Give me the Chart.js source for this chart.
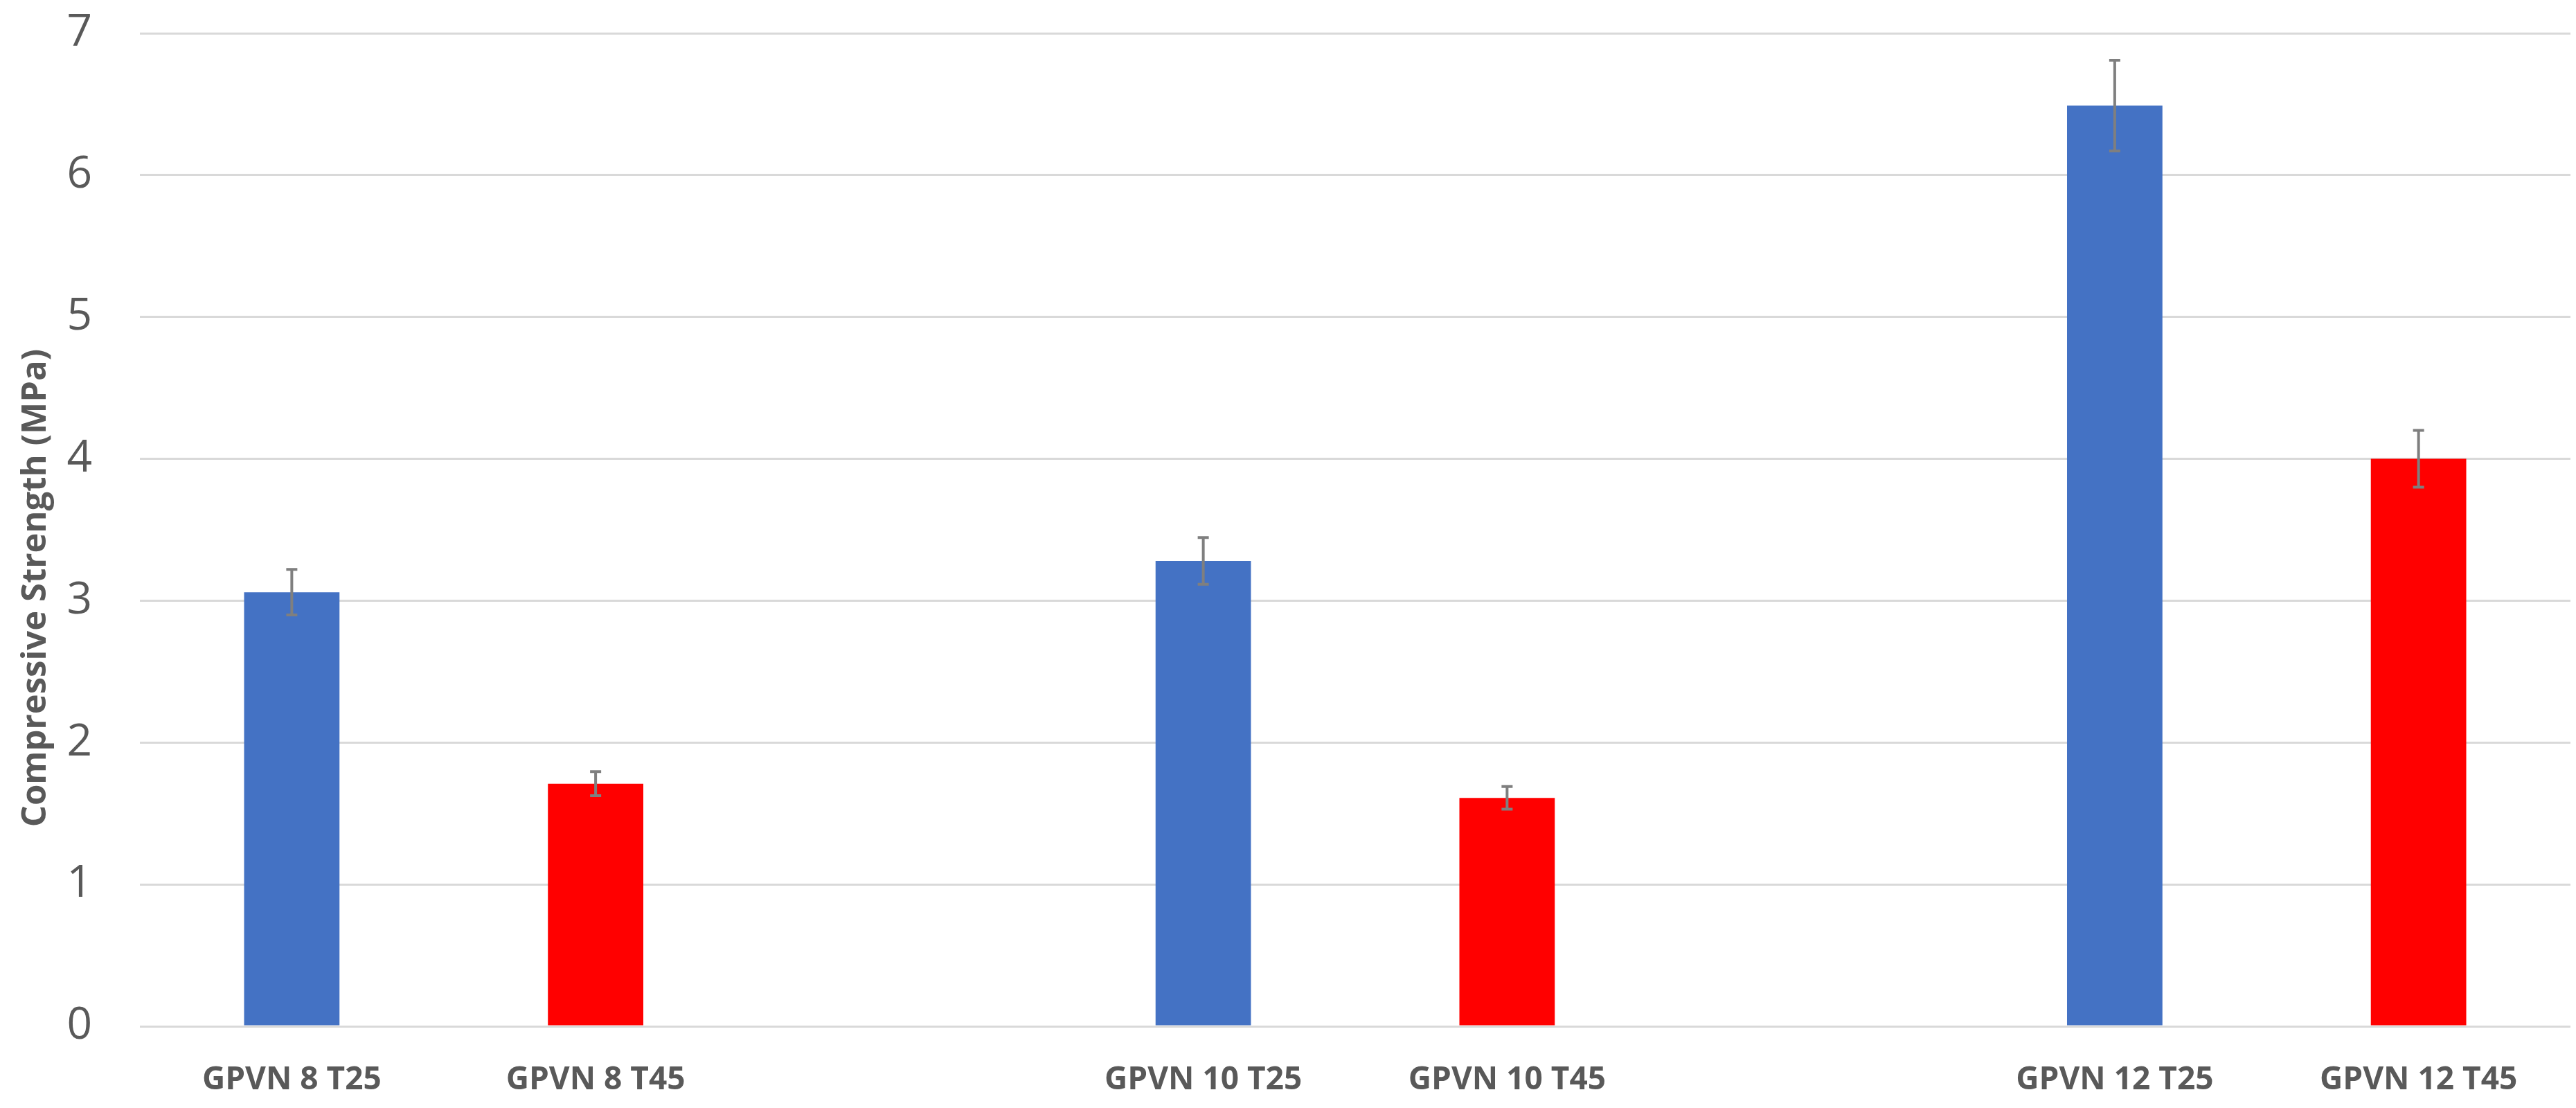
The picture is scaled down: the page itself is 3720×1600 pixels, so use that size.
<!DOCTYPE html>
<html>
<head>
<meta charset="utf-8">
<script src="https://cdn.jsdelivr.net/npm/chart.js@4.4.1/dist/chart.umd.min.js"></script>
<style>
  html, body { margin: 0; padding: 0; background: #ffffff; }
  #wrap { width: 3720px; height: 1600px; }
</style>
</head>
<body>
<div id="wrap"><canvas id="c" width="3720" height="1600"></canvas></div>
<script>
const categories = ['GPVN 8 T25', 'GPVN 8 T45', '', 'GPVN 10 T25', 'GPVN 10 T45', '', 'GPVN 12 T25', 'GPVN 12 T45'];
const t25Values = [3.06, null, null, 3.28, null, null, 6.49, null];
const t25Errors = [0.16, null, null, 0.165, null, null, 0.32, null];
const t45Values = [null, 1.71, null, null, 1.61, null, null, 4.00];
const t45Errors = [null, 0.085, null, null, 0.08, null, null, 0.20];
const yTicks = [0, 1, 2, 3, 4, 5, 6, 7];
const yTitle = 'Compressive Strength (MPa)';

const errorBarPlugin = {
  id: 'errorBars',
  afterDatasetsDraw(chart) {
    const ctx = chart.ctx;
    const yScale = chart.scales.y;
    chart.data.datasets.forEach((ds, i) => {
      const meta = chart.getDatasetMeta(i);
      const errs = ds.errors || [];
      meta.data.forEach((bar, j) => {
        const v = ds.data[j];
        const e = errs[j];
        if (v == null || e == null) return;
        const x = bar.x;
        const yTop = yScale.getPixelForValue(v + e);
        const yBot = yScale.getPixelForValue(v - e);
        ctx.save();
        ctx.strokeStyle = '#7f7f7f';
        ctx.lineWidth = 4;
        ctx.beginPath();
        ctx.moveTo(x, yTop); ctx.lineTo(x, yBot);
        ctx.moveTo(x - 8, yTop); ctx.lineTo(x + 8, yTop);
        ctx.moveTo(x - 8, yBot); ctx.lineTo(x + 8, yBot);
        ctx.stroke();
        ctx.restore();
      });
    });
  }
};

// Y-axis title, placed like the original (slightly below the plot-area centre)
const yTitlePlugin = {
  id: 'yTitle',
  afterDraw(chart) {
    const ctx = chart.ctx;
    const area = chart.chartArea;
    const cy = (area.top + area.bottom) / 2 + 84;
    ctx.save();
    ctx.translate(52, cy);
    ctx.rotate(-Math.PI / 2);
    ctx.textAlign = 'center';
    ctx.textBaseline = 'middle';
    ctx.fillStyle = '#595959';
    ctx.font = 'bold 49px "Open Sans"';
    ctx.fillText(yTitle, 0, 0);
    ctx.restore();
  }
};

new Chart(document.getElementById('c'), {
  type: 'bar',
  data: {
    labels: categories,
    datasets: [
      { label: 'T25', data: t25Values, errors: t25Errors, backgroundColor: '#4472C4', barPercentage: 0.314, categoryPercentage: 1.0 },
      { label: 'T45', data: t45Values, errors: t45Errors, backgroundColor: '#FF0000', barPercentage: 0.314, categoryPercentage: 1.0 }
    ]
  },
  options: {
    responsive: false,
    animation: false,
    devicePixelRatio: 1,
    layout: { padding: { left: 22, right: 8, top: 48, bottom: 11 } },
    plugins: { legend: { display: false }, tooltip: { enabled: false } },
    scales: {
      x: {
        stacked: true,
        grid: { display: false, drawTicks: false },
        border: { display: false },
        afterFit(scale) { scale.paddingLeft = 0; scale.paddingRight = 0; scale.height = 107; },
        ticks: {
          padding: 50,
          color: '#595959',
          font: { family: 'Open Sans', weight: 'bold', size: 46, lineHeight: 1.2 },
          maxRotation: 0, autoSkip: false
        }
      },
      y: {
        min: 0, max: 7,
        afterBuildTicks(scale) { scale.ticks = yTicks.map(v => ({ value: v })); },
        afterFit(scale) { scale.paddingTop = 0; scale.paddingBottom = 0; scale.width = 180; },
        grid: { color: '#d9d9d9', lineWidth: 3, drawTicks: false },
        border: { display: false },
        ticks: {
          padding: 69,
          color: '#595959',
          font: { family: 'Open Sans', size: 64, lineHeight: 1.2 }
        },
        title: { display: false, text: yTitle }
      }
    }
  },
  plugins: [errorBarPlugin, yTitlePlugin]
});
</script>
</body>
</html>
